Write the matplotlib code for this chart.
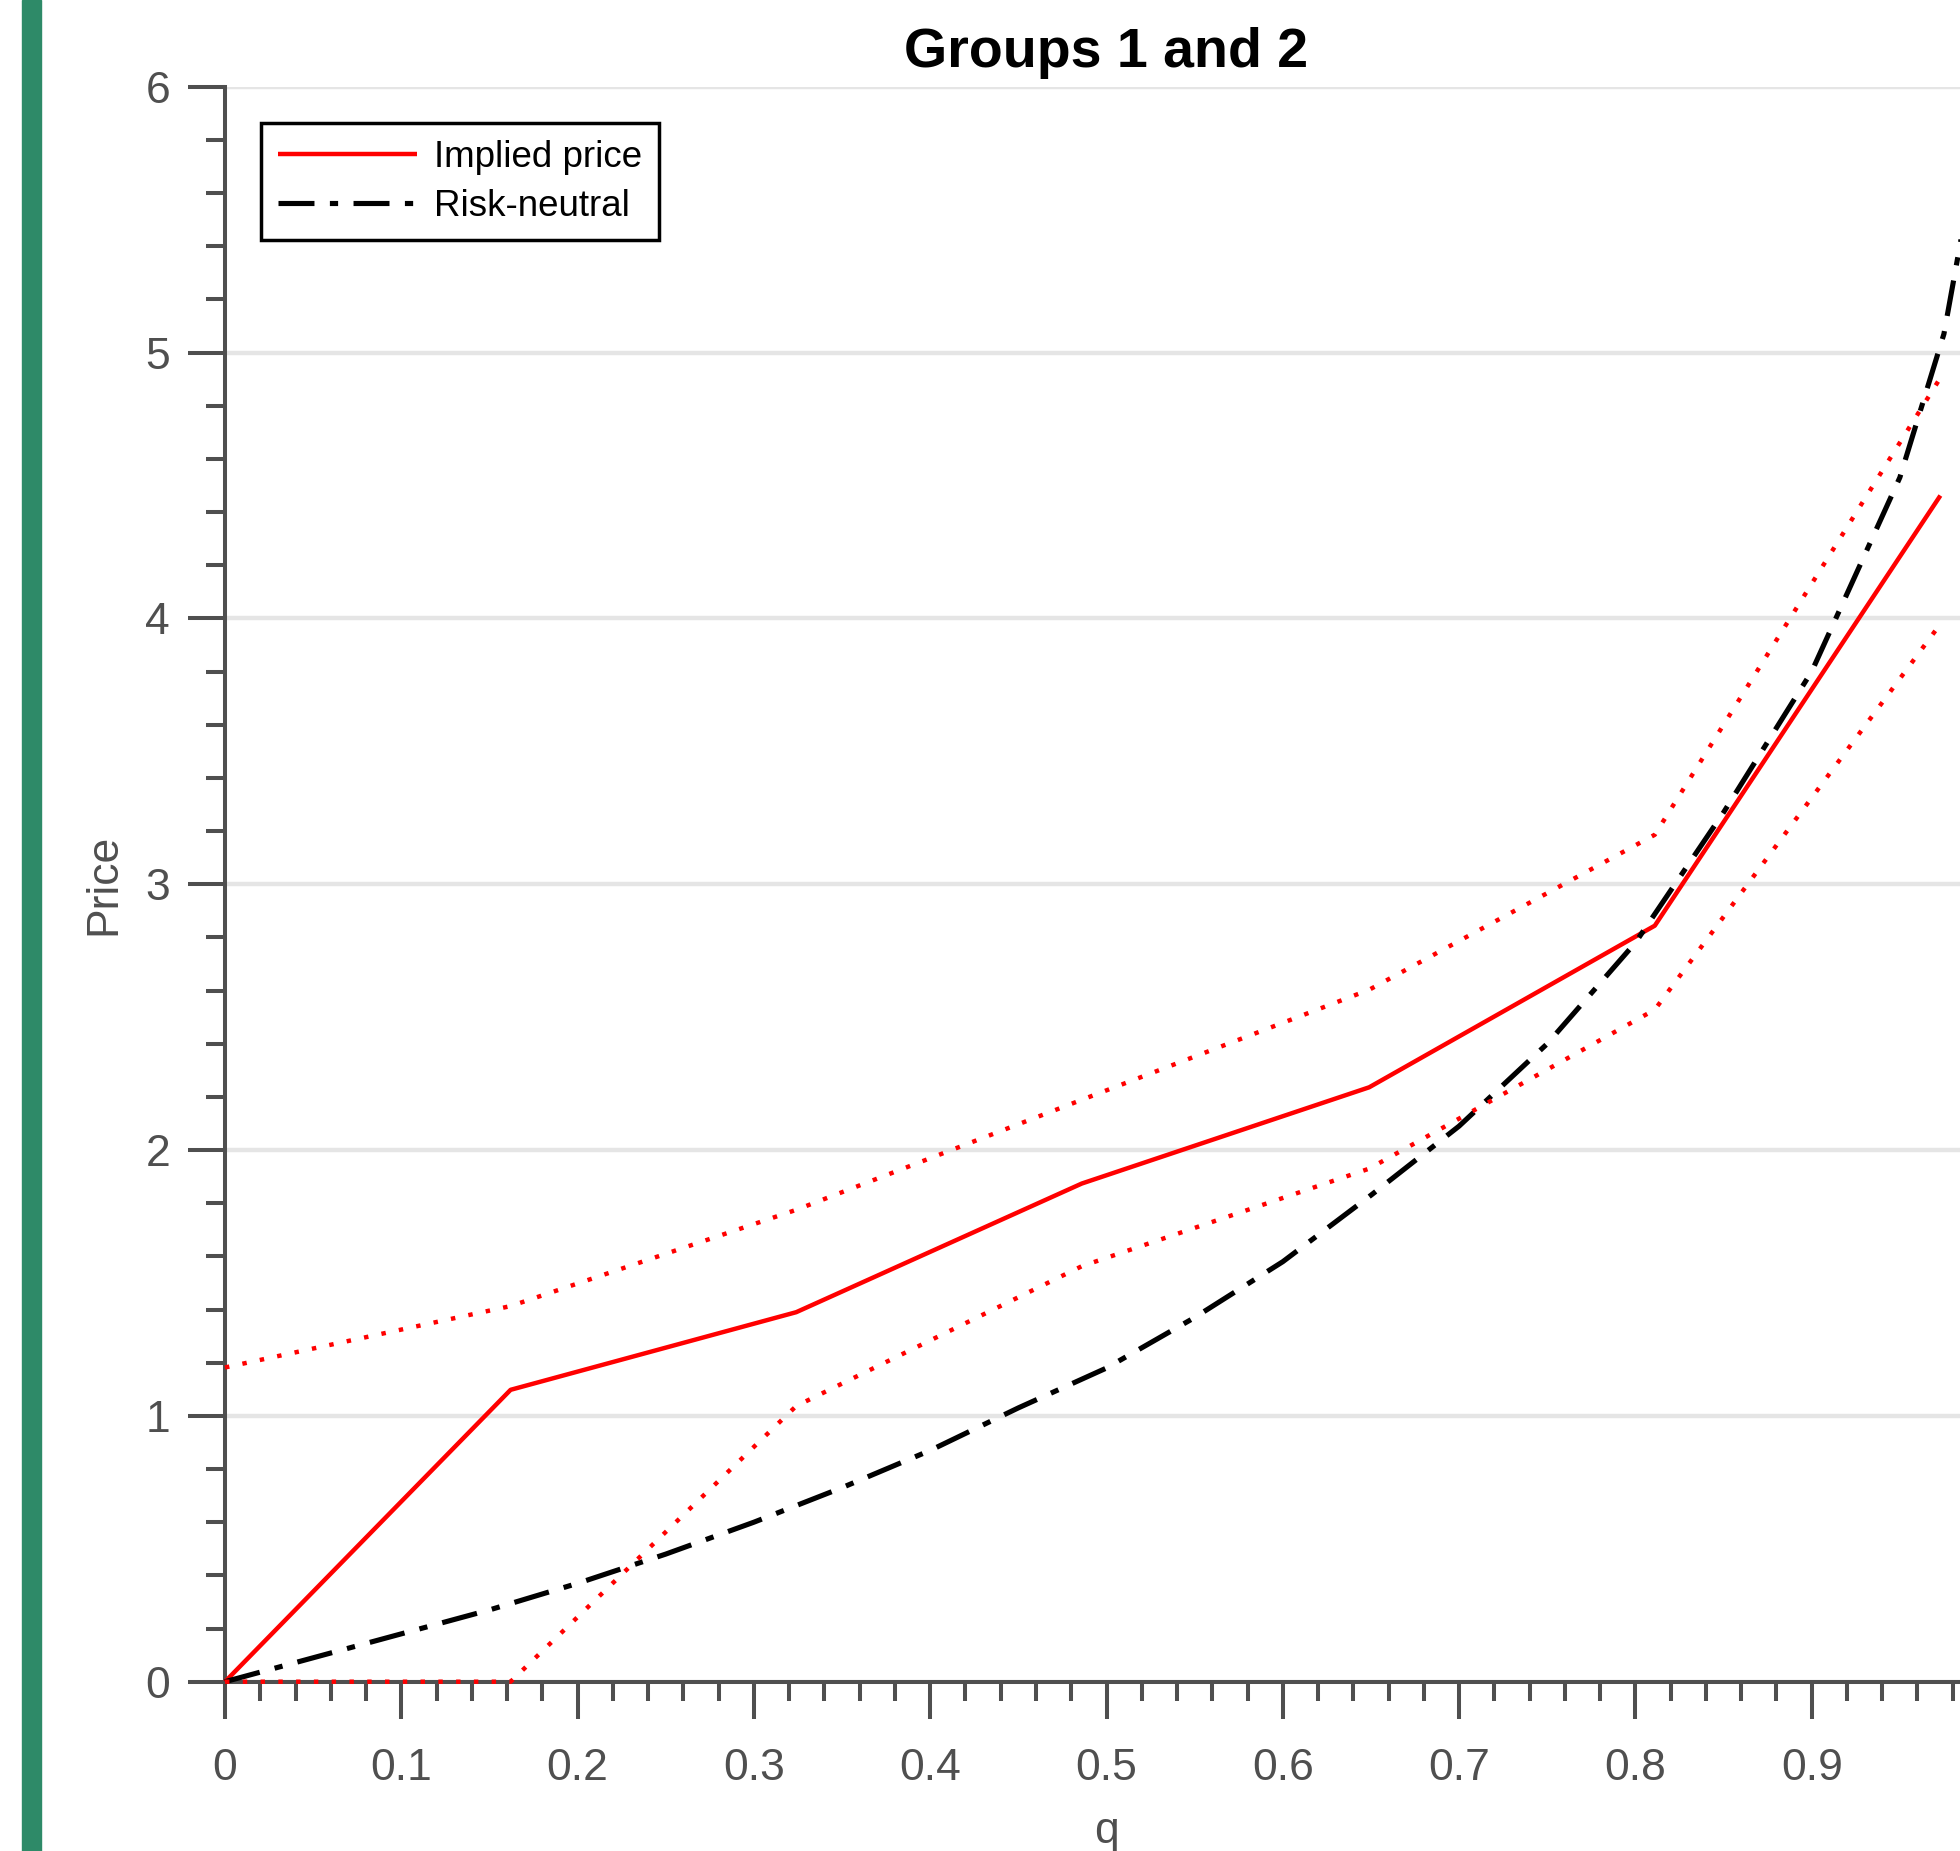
import matplotlib
matplotlib.use('Agg')
import matplotlib.pyplot as plt
from matplotlib.ticker import MultipleLocator
from matplotlib.patches import Rectangle

plt.rcParams['font.family'] = ['Liberation Sans', 'DejaVu Sans']

# ---- data ----
q_impl = [0, 0.162, 0.324, 0.486, 0.649, 0.811, 0.973]
price_impl = [0, 1.098, 1.39, 1.874, 2.236, 2.844, 4.462]
price_upper = [1.182, 1.413, 1.775, 2.189, 2.603, 3.186, 4.905]
price_lower = [0, 0, 1.037, 1.563, 1.93, 2.528, 3.979]

q_rn = [0, 0.05, 0.10, 0.15, 0.20, 0.25, 0.30, 0.35, 0.40, 0.45, 0.50, 0.55,
        0.60, 0.65, 0.70, 0.75, 0.80, 0.85, 0.90, 0.95, 0.975, 0.99]
price_rn = [0, 0.09, 0.18, 0.27, 0.37, 0.48, 0.60, 0.73, 0.87, 1.03, 1.18, 1.37,
            1.58, 1.83, 2.09, 2.40, 2.78, 3.27, 3.80, 4.53, 5.07, 5.62]

labels = ['Implied price', 'Risk-neutral']
title = 'Groups 1 and 2'
xlabel = 'q'
ylabel = 'Price'
xtick_vals = [0, 0.1, 0.2, 0.3, 0.4, 0.5, 0.6, 0.7, 0.8, 0.9, 1.0]
xtick_labels = ['0', '0.1', '0.2', '0.3', '0.4', '0.5', '0.6', '0.7', '0.8', '0.9', '']
ytick_vals = [0, 1, 2, 3, 4, 5, 6]
ytick_labels = ['0', '1', '2', '3', '4', '5', '6']

W, H = 1960, 1851
axc = '#4f4f4f'

fig = plt.figure(figsize=(W / 100, H / 100), dpi=100)
fig.patches.append(Rectangle((22 / W, 0), 19 / W, 1, transform=fig.transFigure,
                             color='#2e8a68', zorder=0))

ax = fig.add_axes([225 / W, 1 - 1681.7 / H, 1763 / W, 1595 / H])

ax.plot(q_impl, price_impl, color='#ff0000', lw=3.2, label=labels[0],
        zorder=3, clip_on=False, solid_capstyle='butt')
ax.plot(q_rn, price_rn, color='#000000', lw=3.7, label=labels[1],
        dashes=(7.0, 3.0, 1.6, 3.0), dash_capstyle='butt', zorder=3, clip_on=False)
ax.plot(q_impl, price_upper, color='#ff0000', lw=3.2, dashes=(1.0, 3.0),
        dash_capstyle='butt', zorder=3, clip_on=False)
ax.plot(q_impl, price_lower, color='#ff0000', lw=3.2, dashes=(1.0, 3.0),
        dash_capstyle='butt', zorder=3, clip_on=False)

ax.set_xlim(0, 1)
ax.set_ylim(0, 6)
ax.xaxis.set_minor_locator(MultipleLocator(0.02))
ax.yaxis.set_minor_locator(MultipleLocator(0.2))
ax.set_xticks(xtick_vals)
ax.set_xticklabels(xtick_labels)
ax.set_yticks(ytick_vals)
ax.set_yticklabels(ytick_labels)

ax.tick_params(which='major', direction='out', length=26.6, width=2.9,
               color=axc, labelcolor=axc, labelsize=32)
ax.tick_params(which='minor', direction='out', length=14, width=2.9, color=axc)
ax.tick_params(axis='x', which='major', pad=21)
ax.tick_params(axis='y', which='major', pad=13)

for s in ['top', 'right']:
    ax.spines[s].set_visible(False)
for s in ['left', 'bottom']:
    ax.spines[s].set_color(axc)
    ax.spines[s].set_linewidth(2.9)

ax.yaxis.grid(True, which='major', color='#e5e5e5', lw=3.2)
ax.set_axisbelow(True)

ax.set_title(title, fontsize=40, fontweight='bold', color='black', pad=14.4)
ax.set_ylabel(ylabel, fontsize=32, color=axc)
ax.yaxis.set_label_coords((124.5 - 225) / 1763, 0.5)
ax.set_xlabel(xlabel, fontsize=32, color=axc)
ax.xaxis.set_label_coords(0.5, (1681.7 - 1810.6) / 1595)

leg = ax.legend(loc='upper left', bbox_to_anchor=(261 / W, 1 - 123 / H),
                bbox_transform=fig.transFigure, borderaxespad=0, fontsize=26.5,
                handlelength=3.8, handletextpad=0.45, borderpad=0.45,
                labelspacing=0.38, fancybox=False, framealpha=1,
                edgecolor='black')
leg.get_frame().set_linewidth(2.5)
leg.set_zorder(5)

fig.savefig('out.png', dpi=100)
